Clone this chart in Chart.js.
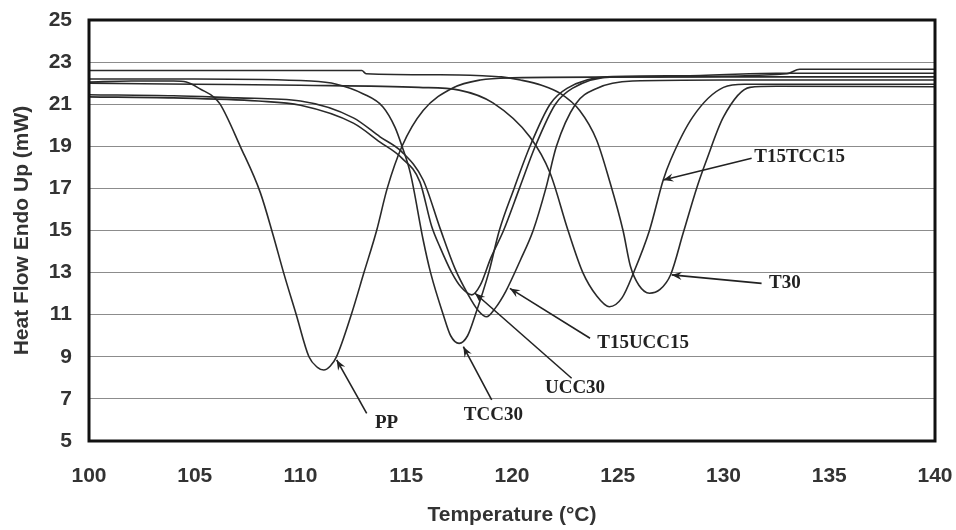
<!DOCTYPE html>
<html>
<head>
<meta charset="utf-8">
<script src="https://cdn.jsdelivr.net/npm/chart.js@4.4.1/dist/chart.umd.min.js"></script>
<style>
  html,body{margin:0;padding:0;background:#fff;}
  #c{display:block;}
</style>
</head>
<body>
<canvas id="c" width="956" height="530"></canvas>
<script>
/* ------- DATA ------- */
const xTicks = [100, 105, 110, 115, 120, 125, 130, 135, 140];
const yTicks = [5, 7, 9, 11, 13, 15, 17, 19, 21, 23, 25];

const ppT = [100, 102, 104, 104.6, 105.3, 105.9, 106.2, 107.15, 108.1, 108.7, 109.2, 109.8, 110.4, 110.8, 111.1, 111.4, 111.7, 112.4, 113.0, 113.6, 114.1, 114.8, 115.8, 117.2, 118.5, 120, 127, 133, 133.6, 140];
const ppV = [22.05, 22.1, 22.1, 22.05, 21.7, 21.34, 21.0, 19.0, 16.8, 14.8, 13.0, 11.0, 9.0, 8.5, 8.37, 8.55, 9.0, 11.0, 13.0, 15.0, 17.0, 19.0, 20.7, 21.77, 22.15, 22.25, 22.3, 22.45, 22.66, 22.66];

const tcc30T = [100, 105, 110.5, 111.7, 112.95, 113.9, 114.47, 114.8, 115.2, 115.8, 116.15, 116.75, 117.1, 117.5, 117.9, 118.25, 118.9, 119.4, 120.1, 120.85, 121.8, 122.6, 124.5, 128, 132.5, 140];
const tcc30V = [22.2, 22.2, 22.1, 21.95, 21.5, 20.87, 19.9, 19.0, 17.7, 14.55, 13.0, 11.0, 10.0, 9.64, 10.0, 10.95, 13.0, 15.0, 17.0, 19.0, 21.0, 21.75, 22.3, 22.35, 22.47, 22.47];

const ucc30T = [100, 104, 108, 110, 112.5, 113.76, 114.78, 115.65, 116.2, 116.6, 117.15, 117.6, 118.1, 118.5, 119.0, 119.6, 120.35, 121.1, 122.05, 122.85, 124.8, 130, 140];
const ucc30V = [21.35, 21.3, 21.15, 20.95, 20.1, 19.2, 18.45, 17.3, 15.2, 14.2, 13.0, 12.3, 11.94, 12.4, 13.7, 15.0, 17.0, 19.0, 21.0, 21.75, 22.3, 22.3, 22.3];

const t15uccT = [100, 104, 107, 110, 112.5, 113.76, 114.78, 115.8, 116.6, 117.3, 117.9, 118.4, 118.8, 119.2, 119.7, 120.4, 121.0, 121.6, 122.1, 123.0, 124.0, 125.7, 130, 140];
const t15uccV = [21.45, 21.4, 21.3, 21.15, 20.35, 19.45, 18.75, 17.4, 15.1, 13.2, 12.0, 11.2, 10.9, 11.3, 12.1, 13.6, 15.0, 17.0, 19.0, 21.0, 21.75, 22.1, 22.15, 22.15];

const t15tccT = [100, 105, 110, 115.6, 117.5, 119.1, 120.85, 121.8, 122.65, 123.35, 124.0, 124.6, 125.2, 125.75, 126.5, 127.15, 127.5, 128.55, 130.0, 131.0, 140];
const t15tccV = [22.0, 21.95, 21.9, 21.8, 21.67, 21.06, 19.44, 17.73, 15.0, 13.0, 11.9, 11.38, 11.8, 13.0, 15.0, 17.4, 18.35, 20.4, 21.8, 21.95, 21.95];

const t30T = [100, 112.9, 113.1, 116.6, 118.6, 119.5, 120.4, 121.4, 122.3, 123.2, 124.0, 124.6, 125.25, 125.6, 126.0, 126.5, 127.0, 127.5, 128.1, 128.75, 129.2, 130.0, 131.25, 132.5, 140];
const t30V = [22.6, 22.6, 22.45, 22.4, 22.35, 22.3, 22.15, 21.9, 21.5, 20.7, 19.3, 17.4, 15.0, 13.3, 12.4, 12.02, 12.2, 12.9, 14.9, 17.07, 18.35, 20.4, 21.8, 21.85, 21.83];

const seriesNames = ["PP", "TCC30", "UCC30", "T15UCC15", "T15TCC15", "T30"];
const seriesT = [ppT, tcc30T, ucc30T, t15uccT, t15tccT, t30T];
const seriesV = [ppV, tcc30V, ucc30V, t15uccV, t15tccV, t30V];

/* ------- ARROW LABELS (placed in axis units) ------- */
const arrows = [
  { text:"PP",       label:[114.07, 5.84], tail:[113.13, 6.31], tip:[111.71, 8.85] },
  { text:"TCC30",    label:[119.12, 6.24], tail:[119.04, 6.95], tip:[117.70, 9.48] },
  { text:"UCC30",    label:[122.98, 7.50], tail:[122.82, 7.98], tip:[118.25, 12.02] },
  { text:"T15UCC15", label:[126.20, 9.64], tail:[123.69, 9.88], tip:[119.90, 12.25] },
  { text:"T30",      label:[132.90, 12.5], tail:[131.80, 12.49], tip:[127.55, 12.89] },
  { text:"T15TCC15", label:[133.60, 18.5], tail:[131.33, 18.43], tip:[127.15, 17.40] }
];

/* ------- PLUGINS ------- */
const framePlugin = {
  id:"frame",
  afterDatasetsDraw(chart){
    const {ctx, chartArea:a} = chart;
    ctx.save();
    ctx.strokeStyle = "#111";
    ctx.lineWidth = 3;
    ctx.strokeRect(a.left, a.top, a.right - a.left, a.bottom - a.top);
    ctx.restore();
  }
};

const arrowPlugin = {
  id:"arrows",
  afterDatasetsDraw(chart){
    const ctx = chart.ctx;
    const xs = chart.scales.x, ys = chart.scales.y;
    const px = p => [xs.getPixelForValue(p[0]), ys.getPixelForValue(p[1])];
    ctx.save();
    ctx.strokeStyle = "#222";
    ctx.fillStyle = "#222";
    ctx.lineWidth = 1.6;
    arrows.forEach(a=>{
      const [x1,y1] = px(a.tail), [x2,y2] = px(a.tip);
      ctx.beginPath(); ctx.moveTo(x1,y1); ctx.lineTo(x2,y2); ctx.stroke();
      const ang = Math.atan2(y2-y1, x2-x1), L = 11, W = 0.38;
      ctx.beginPath();
      ctx.moveTo(x2,y2);
      ctx.lineTo(x2 - L*Math.cos(ang-W), y2 - L*Math.sin(ang-W));
      ctx.lineTo(x2 - L*0.6*Math.cos(ang), y2 - L*0.6*Math.sin(ang));
      ctx.lineTo(x2 - L*Math.cos(ang+W), y2 - L*Math.sin(ang+W));
      ctx.closePath(); ctx.fill();

      const [lx,ly] = px(a.label);
      ctx.font = "bold 19px 'Liberation Serif', 'Times New Roman', serif";
      ctx.textAlign = "center";
      ctx.textBaseline = "middle";
      ctx.fillText(a.text, lx, ly);
    });
    ctx.restore();
  }
};

/* ------- CHART ------- */
const datasets = seriesNames.map((name,i)=>({
  label:name,
  data: seriesT[i].map((t,j)=>({x:t, y:seriesV[i][j]})),
  borderColor:"#2a2a2a",
  borderWidth:1.6,
  pointRadius:0,
  fill:false,
  cubicInterpolationMode:"monotone"
}));

const tickFont = { family:"'Liberation Sans', Arial, sans-serif", weight:"bold" };

new Chart(document.getElementById("c"), {
  type:"line",
  data:{ datasets },
  options:{
    responsive:false,
    animation:false,
    devicePixelRatio:1,
    layout:{ padding:{ top:20, right:21, left:0, bottom:0 } },
    plugins:{ legend:{display:false}, tooltip:{enabled:false} },
    scales:{
      x:{
        type:"linear", min:100, max:140,
        afterBuildTicks: s => { s.ticks = xTicks.map(v=>({value:v})); },
        afterFit: s => { s.height = 89; s.paddingLeft = 0; s.paddingRight = 0; },
        grid:{ display:false, drawTicks:false },
        border:{ display:false },
        ticks:{ color:"#333", padding:23, maxRotation:0, font:{...tickFont, size:21} },
        title:{ display:true, text:"Temperature (°C)", color:"#333",
                font:{...tickFont, size:21}, padding:{top:0, bottom:2} }
      },
      y:{
        type:"linear", min:5, max:25,
        afterBuildTicks: s => { s.ticks = yTicks.map(v=>({value:v})); },
        afterFit: s => { s.width = 89; s.paddingTop = 0; s.paddingBottom = 0; },
        grid:{ color:"#8c8c8c", lineWidth:1, drawTicks:false },
        border:{ display:false },
        ticks:{ color:"#333", padding:17, font:{...tickFont, size:21} },
        title:{ display:true, text:"Heat Flow Endo Up (mW)", color:"#333",
                font:{...tickFont, size:21}, padding:{top:10, bottom:0} }
      }
    }
  },
  plugins:[framePlugin, arrowPlugin]
});
</script>
</body>
</html>
